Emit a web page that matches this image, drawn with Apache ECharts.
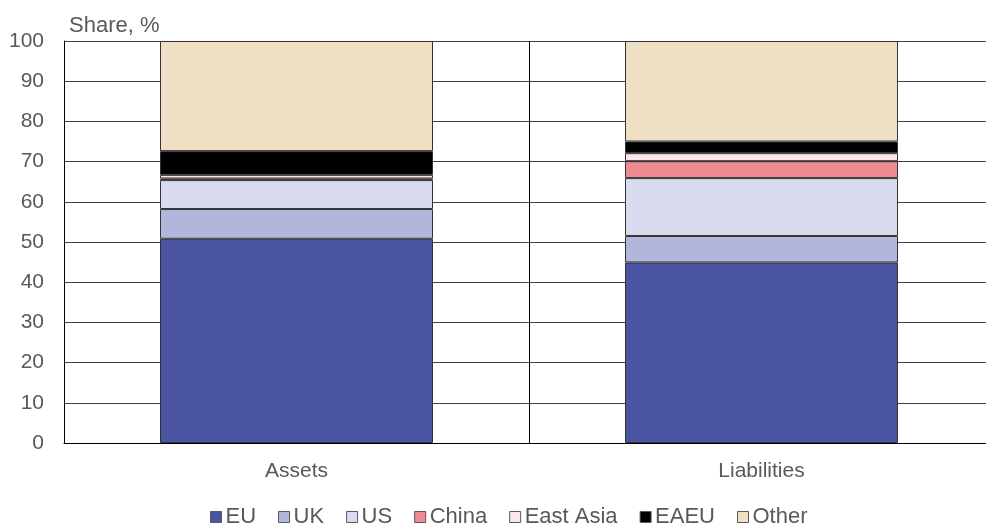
<!DOCTYPE html>
<html>
<head>
<meta charset="utf-8">
<script src="https://cdn.jsdelivr.net/npm/echarts@6/dist/echarts.min.js"></script>
<style>
  html, body { margin: 0; padding: 0; background: #fff; }
  #chart { width: 986px; height: 530px; }
</style>
</head>
<body>
<div id="chart"></div>
<script>
const categories = ['Assets', 'Liabilities']
const seriesNames = ['EU', 'UK', 'US', 'China', 'East Asia', 'EAEU', 'Other']
const eu = [50.8, 44.9]
const uk = [7.4, 6.6]
const us = [7.2, 14.4]
const china = [0.4, 4.2]
const eastAsia = [0.9, 2.0]
const eaeu = [5.9, 2.9]
const other = [27.4, 25.0]
const yTicks = [0, 10, 20, 30, 40, 50, 60, 70, 80, 90, 100]

const values = [eu, uk, us, china, eastAsia, eaeu, other]
const colors = ['#4B53A3', '#B3B6DC', '#D9DBEE', '#F08A92', '#FDE6E8', '#000000', '#EEDFC5']
const font = 'Liberation Sans, Arial, sans-serif'

const chart = echarts.init(document.getElementById('chart'))
chart.setOption({
  animation: false,
  title: {
    text: 'Share, %',
    left: 64,
    top: 10,
    textStyle: { fontFamily: font, fontSize: 22, fontWeight: 'normal', color: '#595959' }
  },
  legend: {
    bottom: -3,
    left: 205,
    itemWidth: 11,
    itemHeight: 11,
    itemGap: 22,
    icon: 'rect',
    textStyle: { fontFamily: font, fontSize: 22, color: '#595959', padding: [0, 0, 0, -1] },
    itemStyle: { borderColor: '#595959', borderWidth: 1 },
    data: seriesNames
  },
  // the right edge of the plot runs past the picture
  grid: { left: 64, width: 930, top: 41, bottom: 87, containLabel: false, outerBoundsMode: 'none' },
  xAxis: {
    type: 'category',
    data: categories,
    boundaryGap: true,
    axisLine: { show: true, lineStyle: { color: '#000', width: 1 } },
    axisTick: { show: false },
    splitLine: { show: true, lineStyle: { color: '#000', width: 1 } },
    axisLabel: { margin: 18, fontFamily: font, fontSize: 21, color: '#595959' }
  },
  yAxis: {
    type: 'value',
    min: yTicks[0],
    max: yTicks[yTicks.length - 1],
    interval: 10,
    axisLine: { show: true, lineStyle: { color: '#000', width: 1 } },
    axisTick: { show: false },
    splitLine: { show: true, lineStyle: { color: '#404040', width: 1 } },
    axisLabel: { margin: 20, fontFamily: font, fontSize: 21, color: '#595959' }
  },
  series: seriesNames.map((name, i) => ({
    name,
    type: 'bar',
    stack: 'total',
    barWidth: 273,
    data: values[i],
    itemStyle: { color: colors[i], borderColor: '#333', borderWidth: 1 },
    emphasis: { disabled: true }
  }))
})
</script>
</body>
</html>
